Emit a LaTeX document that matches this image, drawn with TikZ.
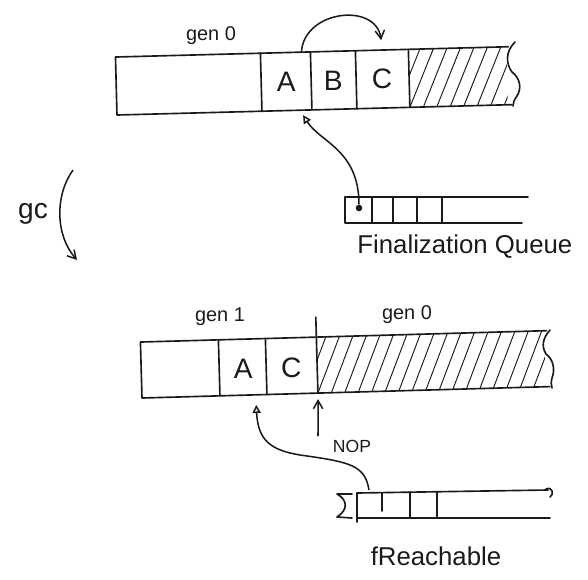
\documentclass[tikz,border=0pt]{standalone}
\usepackage{fontspec}
\setmainfont{Liberation Sans}
\usetikzlibrary{arrows.meta,positioning,calc}
\definecolor{hdInk}{HTML}{1A1A1A}
\tikzset{
  bar/.style={draw=hdInk, line width=1.4pt, line cap=round, line join=round},
  hatch/.style={draw=hdInk, line width=0.8pt},
  cellTxt/.style={font=\fontsize{24}{28}\selectfont, text=hdInk, inner sep=1pt},
  genTxt/.style={font=\fontsize{17}{20}\selectfont, text=hdInk, inner sep=1pt},
  capTxt/.style={font=\fontsize{22}{26}\selectfont, text=hdInk, inner sep=1pt},
  arr/.style={-{Straight Barb[length=7pt,width=8pt]}, line width=1.3pt, draw=hdInk},
  arrO/.style={-{Triangle[open,length=7pt,width=7pt]}, line width=1.3pt, draw=hdInk},
}
\begin{document}
\begin{tikzpicture}[x=0.03cm,y=0.03cm]
  \useasboundingbox (0,0) rectangle (588,-579);
  % heap before gc
  \begin{scope}[rotate around={1.5:(117,-115)}]
    \begin{scope}
      \clip (410,-57) rectangle (508,-115);
      \foreach \k in {-2,...,7} {
        \draw[hatch] (410+\k*13.5,-115) -- ++(25,58);
      }
    \end{scope}
    \draw[bar] (510,-57) -- (117,-57) -- (117,-115) -- (512,-115);
    \foreach \x in {262,312,357,410} {
      \draw[bar] (\x,-57) -- (\x,-115);
    }
    \node[cellTxt] (a0) at (287,-86) {A};
    \node[cellTxt] (b0) at (334,-86) {B};
    \node[cellTxt] (c0) at (383,-86) {C};
    \coordinate (a0top) at (303,-57);
    \coordinate (c0top) at (383,-47);
    \coordinate (a0bot) at (303,-120);
  \end{scope}
  \draw[bar] (515,-42) .. controls (505,-52) and (506,-64) .. (512,-72)
    .. controls (520,-78) and (522,-88) .. (517,-96) .. controls (514,-100) and (513,-103) .. (513,-106);
  \node[genTxt] (gen0a) at (211,-36) {gen 0};
  \draw[arr] (a0top) .. controls (304,-10) and (376,-2) .. (c0top);
  % finalization queue
  \draw[bar] (528,-197) -- (345,-197) -- (345,-223) -- (522,-223);
  \foreach \x in {372,393,417,442} {
    \draw[bar] (\x,-197) -- (\x,-223);
  }
  \node[circle, fill=hdInk, inner sep=2pt] (qdot) at (359,-208) {};
  \node[capTxt, anchor=west] (fq) at (356,-247) {Finalization Queue};
  \draw[arrO] (qdot) .. controls (359,-150) and (320,-142) .. (a0bot);
  % gc step
  \node[font=\fontsize{24}{28}\selectfont, text=hdInk] (gc) at (33,-214) {gc};
  \coordinate (gcTop) at (73,-170);
  \coordinate (gcBot) at (77,-260);
  \draw[arr] (gcTop) .. controls (55,-195) and (55,-235) .. (gcBot);
  % heap after gc
  \begin{scope}[rotate around={1.6:(142,-398)}]
    \begin{scope}
      \clip (318,-342) rectangle (546,-398);
      \foreach \k in {-2,...,17} {
        \draw[hatch] (318+\k*13.5,-398) -- ++(23,56);
      }
    \end{scope}
    \draw[bar] (548,-342) -- (142,-342) -- (142,-398) -- (550,-398);
    \foreach \x in {220,267} {
      \draw[bar] (\x,-342) -- (\x,-398);
    }
    \draw[bar] (318,-322) -- (318,-398);
    \node[cellTxt] (a1) at (244,-372) {A};
    \node[cellTxt] (c1) at (292,-372) {C};
    \coordinate (a1bot) at (256,-408);
    \coordinate (genEdge) at (318,-404);
  \end{scope}
  \draw[bar] (550,-330) .. controls (543,-338) and (541,-346) .. (546,-354)
    .. controls (554,-360) and (555,-370) .. (552,-378) .. controls (551,-382) and (551,-385) .. (552,-388);
  \node[genTxt] (gen1) at (220,-317) {gen 1};
  \node[genTxt] (gen0b) at (407,-315) {gen 0};
  \node[font=\fontsize{15}{18}\selectfont, text=hdInk] (nop) at (352,-446) {NOP};
  \coordinate (nopEnd) at (318,-436);
  \draw[arr] (nopEnd) -- (genEdge);
  % freachable queue
  \draw[bar] (548,-490) -- (357,-493);
  \draw[bar] (357,-518) -- (550,-518);
  \draw[bar] (352,-494) -- (337,-494) .. controls (348,-500) and (348,-510) .. (337,-517) -- (352,-518);
  \draw[bar] (357,-493) -- (357,-522);
  \draw[bar] (382,-493) -- (382,-511);
  \foreach \x in {410,437} {
    \draw[bar] (\x,-492) -- (\x,-518);
  }
  \draw[bar] (546,-489) .. controls (553,-486) and (554,-495) .. (550,-497);
  \node[capTxt] (fr) at (436,-556) {fReachable};
  \coordinate (frTop) at (369,-490);
  \draw[arrO] (frTop) .. controls (365,-465) and (350,-462) .. (300,-455)
    .. controls (270,-450) and (258,-440) .. (a1bot);
\end{tikzpicture}
\end{document}
